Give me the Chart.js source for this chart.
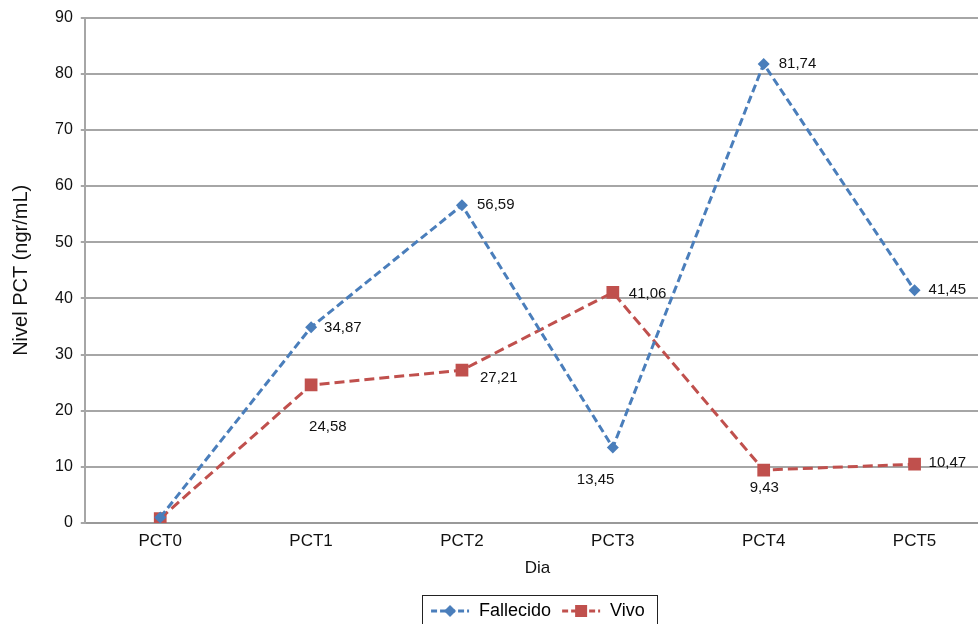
<!DOCTYPE html>
<html>
<head>
<meta charset="utf-8">
<script src="https://cdn.jsdelivr.net/npm/chart.js@4.4.1/dist/chart.umd.min.js"></script>
<style>
  html, body { margin: 0; padding: 0; background: #fff; overflow: hidden; }
  #wrap { position: relative; width: 999px; height: 630px; }
</style>
</head>
<body>
<div id="wrap"><canvas id="pctChart"></canvas></div>
<script>
// Datos del gráfico
const dias = ['PCT0', 'PCT1', 'PCT2', 'PCT3', 'PCT4', 'PCT5'];
const fallecido = [1.0, 34.87, 56.59, 13.45, 81.74, 41.45];
const vivo = [0.8, 24.58, 27.21, 41.06, 9.43, 10.47];
const yTicks = [0, 10, 20, 30, 40, 50, 60, 70, 80, 90];

const AZUL = '#4A7EBB';
const ROJO = '#C0504D';
const FUENTE = "'Liberation Sans', Arial, Helvetica, sans-serif";

// Desplazamiento de las etiquetas (dx, dy) respecto al punto; null = sin etiqueta
const posEtiquetas = [
    [null, [13, 1], [15, 0], [-36, 32], [15, 0], [14, 0]],
    [null, [-2, 42], [18, 8], [16, 1], [-14, 18], [14, -1]]
];

// Icono de leyenda: línea discontinua + marcador
function iconoLeyenda(color, forma) {
    const c = document.createElement('canvas');
    c.width = 40; c.height = 14;
    const ctx = c.getContext('2d');
    ctx.strokeStyle = color;
    ctx.lineWidth = 3;
    ctx.setLineDash([6, 3]);
    ctx.beginPath();
    ctx.moveTo(1, 7); ctx.lineTo(39, 7);
    ctx.stroke();
    ctx.fillStyle = color;
    ctx.beginPath();
    if (forma === 'diamante') {
        ctx.moveTo(20, 1); ctx.lineTo(26, 7); ctx.lineTo(20, 13); ctx.lineTo(14, 7);
    } else {
        ctx.rect(14, 1, 12, 12);
    }
    ctx.closePath();
    ctx.fill();
    return c;
}

const etiquetasPlugin = {
    id: 'etiquetas',
    afterDatasetsDraw(chart) {
        const ctx = chart.ctx;
        ctx.save();
        ctx.font = '15px ' + FUENTE;
        ctx.fillStyle = '#111';
        ctx.textAlign = 'left';
        ctx.textBaseline = 'middle';
        chart.data.datasets.forEach((ds, i) => {
            chart.getDatasetMeta(i).data.forEach((pt, j) => {
                const off = posEtiquetas[i][j];
                if (!off) return;
                const txt = ds.data[j].toFixed(2).replace('.', ',');
                ctx.fillText(txt, pt.x + off[0], pt.y + off[1]);
            });
        });
        ctx.restore();
    }
};

const marcoLeyenda = {
    id: 'marcoLeyenda',
    afterDraw(chart) {
        const hit = chart.legend && chart.legend.legendHitBoxes;
        if (!hit || !hit.length) return;
        const x0 = hit[0].left - 8;
        const last = hit[hit.length - 1];
        const x1 = last.left + last.width + 12;
        const y0 = hit[0].top - 7;
        const ctx = chart.ctx;
        ctx.save();
        ctx.strokeStyle = '#222';
        ctx.lineWidth = 1;
        ctx.strokeRect(Math.round(x0) + 0.5, Math.round(y0) + 0.5, Math.round(x1 - x0), 40);
        ctx.restore();
    }
};

new Chart(document.getElementById('pctChart').getContext('2d'), {
    type: 'line',
    data: {
        labels: dias,
        datasets: [{
            label: 'Fallecido',
            data: fallecido,
            borderColor: AZUL,
            backgroundColor: AZUL,
            borderWidth: 3,
            borderDash: [8, 4],
            tension: 0,
            pointStyle: 'rectRot',
            pointRadius: 6,
            pointBorderWidth: 0,
            pointBackgroundColor: AZUL
        }, {
            label: 'Vivo',
            data: vivo,
            borderColor: ROJO,
            backgroundColor: ROJO,
            borderWidth: 3,
            borderDash: [10, 5],
            tension: 0,
            pointStyle: 'rect',
            pointRadius: 9,
            pointBorderWidth: 0,
            pointBackgroundColor: ROJO
        }]
    },
    options: {
        responsive: true,
        maintainAspectRatio: false,
        animation: false,
        layout: { padding: { top: 11, right: 2, left: 9, bottom: 0 } },
        plugins: {
            legend: {
                position: 'bottom',
                fullSize: false,
                labels: {
                    usePointStyle: true,
                    pointStyleWidth: 40,
                    generateLabels: function(chart) {
                        return chart.data.datasets.map((ds, i) => ({
                            text: ds.label,
                            fillStyle: ds.borderColor,
                            strokeStyle: ds.borderColor,
                            lineWidth: 0,
                            pointStyle: iconoLeyenda(ds.borderColor, i === 0 ? 'diamante' : 'cuadrado'),
                            datasetIndex: i
                        }));
                    },
                    color: '#111',
                    font: { family: FUENTE, size: 18 },
                    padding: 10
                }
            },
            tooltip: { enabled: false }
        },
        scales: {
            x: {
                offset: true,
                grid: { display: false, drawTicks: false },
                border: { color: '#999', width: 2 },
                ticks: {
                    color: '#111',
                    font: { family: FUENTE, size: 17, lineHeight: 1.0 },
                    padding: 10
                },
                title: {
                    display: true,
                    text: 'Dia',
                    color: '#111',
                    font: { family: FUENTE, size: 17, lineHeight: 1.0 },
                    padding: { top: 0, bottom: 15 }
                }
            },
            y: {
                min: 0,
                max: 90,
                afterBuildTicks: function(axis) {
                    axis.ticks = yTicks.map(v => ({ value: v }));
                },
                grid: { color: '#a6a6a6', lineWidth: 2, tickLength: 4 },
                border: { color: '#a6a6a6', width: 2 },
                ticks: {
                    color: '#111',
                    font: { family: FUENTE, size: 16 },
                    padding: 8
                },
                title: {
                    display: true,
                    text: 'Nivel PCT (ngr/mL)',
                    color: '#111',
                    font: { family: FUENTE, size: 20 },
                    padding: { top: 0, bottom: 14 }
                }
            }
        }
    },
    plugins: [etiquetasPlugin, marcoLeyenda]
});
</script>
</body>
</html>
